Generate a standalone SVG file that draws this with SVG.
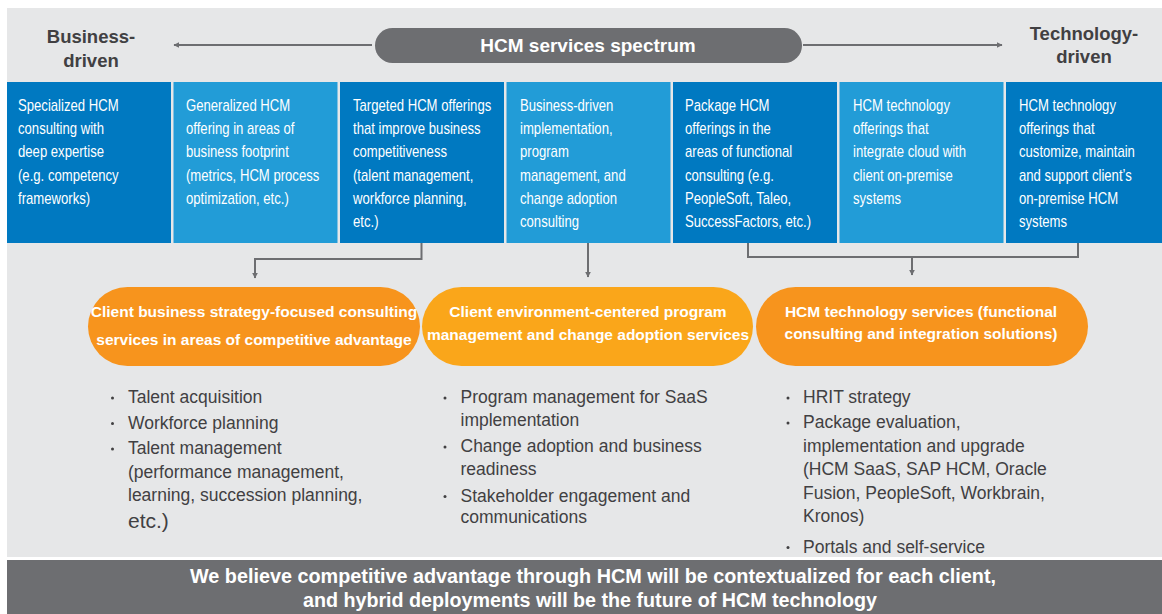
<svg xmlns="http://www.w3.org/2000/svg" width="1162" height="614" viewBox="0 0 1162 614">
<style>
.hdr{font-family:"Liberation Sans",Arial,sans-serif;font-weight:bold;font-size:18.5px;fill:#414042;text-anchor:middle}
.spec{font-family:"Liberation Sans",Arial,sans-serif;font-weight:bold;font-size:19px;fill:#fff;text-anchor:middle}
.bx{font-family:"Liberation Sans",Arial,sans-serif;font-size:16.4px;fill:#fff}
.dk{fill:#0079c1}.lt{fill:#229cd7}
.pl{font-family:"Liberation Sans",Arial,sans-serif;font-weight:bold;font-size:15.5px;fill:#fff;text-anchor:middle}
.li{font-family:"Liberation Sans",Arial,sans-serif;font-size:17.5px;fill:#414042}
.dot{fill:#414042}
.conn{fill:none;stroke:#6d6e71;stroke-width:2}
.ft{font-family:"Liberation Sans",Arial,sans-serif;font-weight:bold;font-size:20px;fill:#fff}
</style>
<defs>
<marker id="ah" viewBox="0 0 10 10" refX="9" refY="5" markerWidth="6" markerHeight="6" markerUnits="userSpaceOnUse" orient="auto">
<path d="M0,0 L10,5 L0,10 z" fill="#6d6e71"/>
</marker>
</defs>
<rect x="0" y="0" width="1162" height="614" fill="#fff"/>
<rect x="7" y="8" width="1155" height="549" fill="#e6e7e8"/>

<g id="header">
<text class="hdr" x="91" y="43">Business-</text>
<text class="hdr" x="91" y="67">driven</text>
<text class="hdr" x="1084" y="40">Technology-</text>
<text class="hdr" x="1084" y="63">driven</text>
</g>
<g id="spectrum">
<rect x="375" y="28" width="427" height="35" rx="17.5" fill="#6d6e71"/>
<text class="spec" x="588" y="52">HCM services spectrum</text>
</g>

<g id="box1"><rect class="dk" x="7" y="82" width="164" height="161"/>
<g transform="translate(18 0) scale(0.8 1)"><text class="bx" x="0" y="111">Specialized HCM</text><text class="bx" x="0" y="134">consulting with</text><text class="bx" x="0" y="157">deep expertise</text><text class="bx" x="0" y="181">(e.g. competency</text><text class="bx" x="0" y="204">frameworks)</text></g></g>
<g id="box2"><rect class="lt" x="173.5" y="82" width="164" height="161"/>
<g transform="translate(186 0) scale(0.8 1)"><text class="bx" x="0" y="111">Generalized HCM</text><text class="bx" x="0" y="134">offering in areas of</text><text class="bx" x="0" y="157">business footprint</text><text class="bx" x="0" y="181">(metrics, HCM process</text><text class="bx" x="0" y="204">optimization, etc.)</text></g></g>
<g id="box3"><rect class="dk" x="340" y="82" width="164" height="161"/>
<g transform="translate(353 0) scale(0.8 1)"><text class="bx" x="0" y="111">Targeted HCM offerings</text><text class="bx" x="0" y="134">that improve business</text><text class="bx" x="0" y="157">competitiveness</text><text class="bx" x="0" y="181">(talent management,</text><text class="bx" x="0" y="204">workforce planning,</text><text class="bx" x="0" y="227">etc.)</text></g></g>
<g id="box4"><rect class="lt" x="506.5" y="82" width="164" height="161"/>
<g transform="translate(520 0) scale(0.8 1)"><text class="bx" x="0" y="111">Business-driven</text><text class="bx" x="0" y="134">implementation,</text><text class="bx" x="0" y="157">program</text><text class="bx" x="0" y="181">management, and</text><text class="bx" x="0" y="204">change adoption</text><text class="bx" x="0" y="227">consulting</text></g></g>
<g id="box5"><rect class="dk" x="673" y="82" width="164" height="161"/>
<g transform="translate(685 0) scale(0.8 1)"><text class="bx" x="0" y="111">Package HCM</text><text class="bx" x="0" y="134">offerings in the</text><text class="bx" x="0" y="157">areas of functional</text><text class="bx" x="0" y="181">consulting (e.g.</text><text class="bx" x="0" y="204">PeopleSoft, Taleo,</text><text class="bx" x="0" y="227">SuccessFactors, etc.)</text></g></g>
<g id="box6"><rect class="lt" x="839.5" y="82" width="164" height="161"/>
<g transform="translate(853 0) scale(0.8 1)"><text class="bx" x="0" y="111">HCM technology</text><text class="bx" x="0" y="134">offerings that</text><text class="bx" x="0" y="157">integrate cloud with</text><text class="bx" x="0" y="181">client on-premise</text><text class="bx" x="0" y="204">systems</text></g></g>
<g id="box7"><rect class="dk" x="1006" y="82" width="156" height="161"/>
<g transform="translate(1019 0) scale(0.8 1)"><text class="bx" x="0" y="111">HCM technology</text><text class="bx" x="0" y="134">offerings that</text><text class="bx" x="0" y="157">customize, maintain</text><text class="bx" x="0" y="181">and support client’s</text><text class="bx" x="0" y="204">on-premise HCM</text><text class="bx" x="0" y="227">systems</text></g></g>

<g id="connectors">
<line class="conn" x1="372" y1="45" x2="174" y2="45" marker-end="url(#ah)"/>
<line class="conn" x1="803" y1="45" x2="1002" y2="45" marker-end="url(#ah)"/>
<polyline class="conn" points="421.5,243 421.5,259 255,259 255,278" marker-end="url(#ah)"/>
<line class="conn" x1="588" y1="243" x2="588" y2="277" marker-end="url(#ah)"/>
<polyline class="conn" points="748,243 748,257 1078,257 1078,243"/>
<line class="conn" x1="912" y1="257" x2="912" y2="275" marker-end="url(#ah)"/>
</g>

<g id="pill1"><rect x="88" y="287" width="332" height="79" rx="39.5" fill="#f7941d"/>
<text class="pl" x="254" y="316.5">Client business strategy-focused consulting</text>
<text class="pl" x="254" y="345">services in areas of competitive advantage</text></g>
<g id="pill2"><rect x="422" y="287" width="331" height="79" rx="39.5" fill="#faa61a"/>
<text class="pl" x="588" y="317">Client environment-centered program</text>
<text class="pl" x="588" y="340">management and change adoption services</text></g>
<g id="pill3"><rect x="756" y="287" width="332" height="79" rx="39.5" fill="#f7941d"/>
<text class="pl" x="921" y="317">HCM technology services (functional</text>
<text class="pl" x="921" y="339">consulting and integration solutions)</text></g>

<g id="list1">
<circle class="dot" cx="112.5" cy="398" r="1.5"/><text class="li" x="128" y="403">Talent acquisition</text>
<circle class="dot" cx="112.5" cy="423.5" r="1.5"/><text class="li" x="128" y="429">Workforce planning</text>
<circle class="dot" cx="112.5" cy="449" r="1.5"/><text class="li" x="128" y="454">Talent management</text>
<text class="li" x="128" y="477.5">(performance management,</text>
<text class="li" x="128" y="501">learning, succession planning,</text>
<text class="li" x="128" y="528" style="font-size:21px">etc.)</text>
</g>
<g id="list2">
<circle class="dot" cx="445" cy="398" r="1.5"/><text class="li" x="460.5" y="403">Program management for SaaS</text>
<text class="li" x="460.5" y="425.5">implementation</text>
<circle class="dot" cx="445" cy="447" r="1.5"/><text class="li" x="460.5" y="452">Change adoption and business</text>
<text class="li" x="460.5" y="475">readiness</text>
<circle class="dot" cx="445" cy="496.5" r="1.5"/><text class="li" x="460.5" y="501.5">Stakeholder engagement and</text>
<text class="li" x="460.5" y="523">communications</text>
</g>
<g id="list3">
<circle class="dot" cx="788" cy="398" r="1.5"/><text class="li" x="803" y="403">HRIT strategy</text>
<circle class="dot" cx="788" cy="423" r="1.5"/><text class="li" x="803" y="428">Package evaluation,</text>
<text class="li" x="803" y="451.5">implementation and upgrade</text>
<text class="li" x="803" y="475">(HCM SaaS, SAP HCM, Oracle</text>
<text class="li" x="803" y="498.5">Fusion, PeopleSoft, Workbrain,</text>
<text class="li" x="803" y="521.5">Kronos)</text>
<circle class="dot" cx="788" cy="547.5" r="1.5"/><text class="li" x="803" y="552.5">Portals and self-service</text>
</g>

<g id="footer">
<rect x="7" y="560" width="1155" height="54" fill="#6d6e71"/>
<text class="ft" x="190" y="583" textLength="806" lengthAdjust="spacingAndGlyphs">We believe competitive advantage through HCM will be contextualized for each client,</text>
<text class="ft" x="303" y="607" textLength="574" lengthAdjust="spacingAndGlyphs">and hybrid deployments will be the future of HCM technology</text>
</g>
</svg>
